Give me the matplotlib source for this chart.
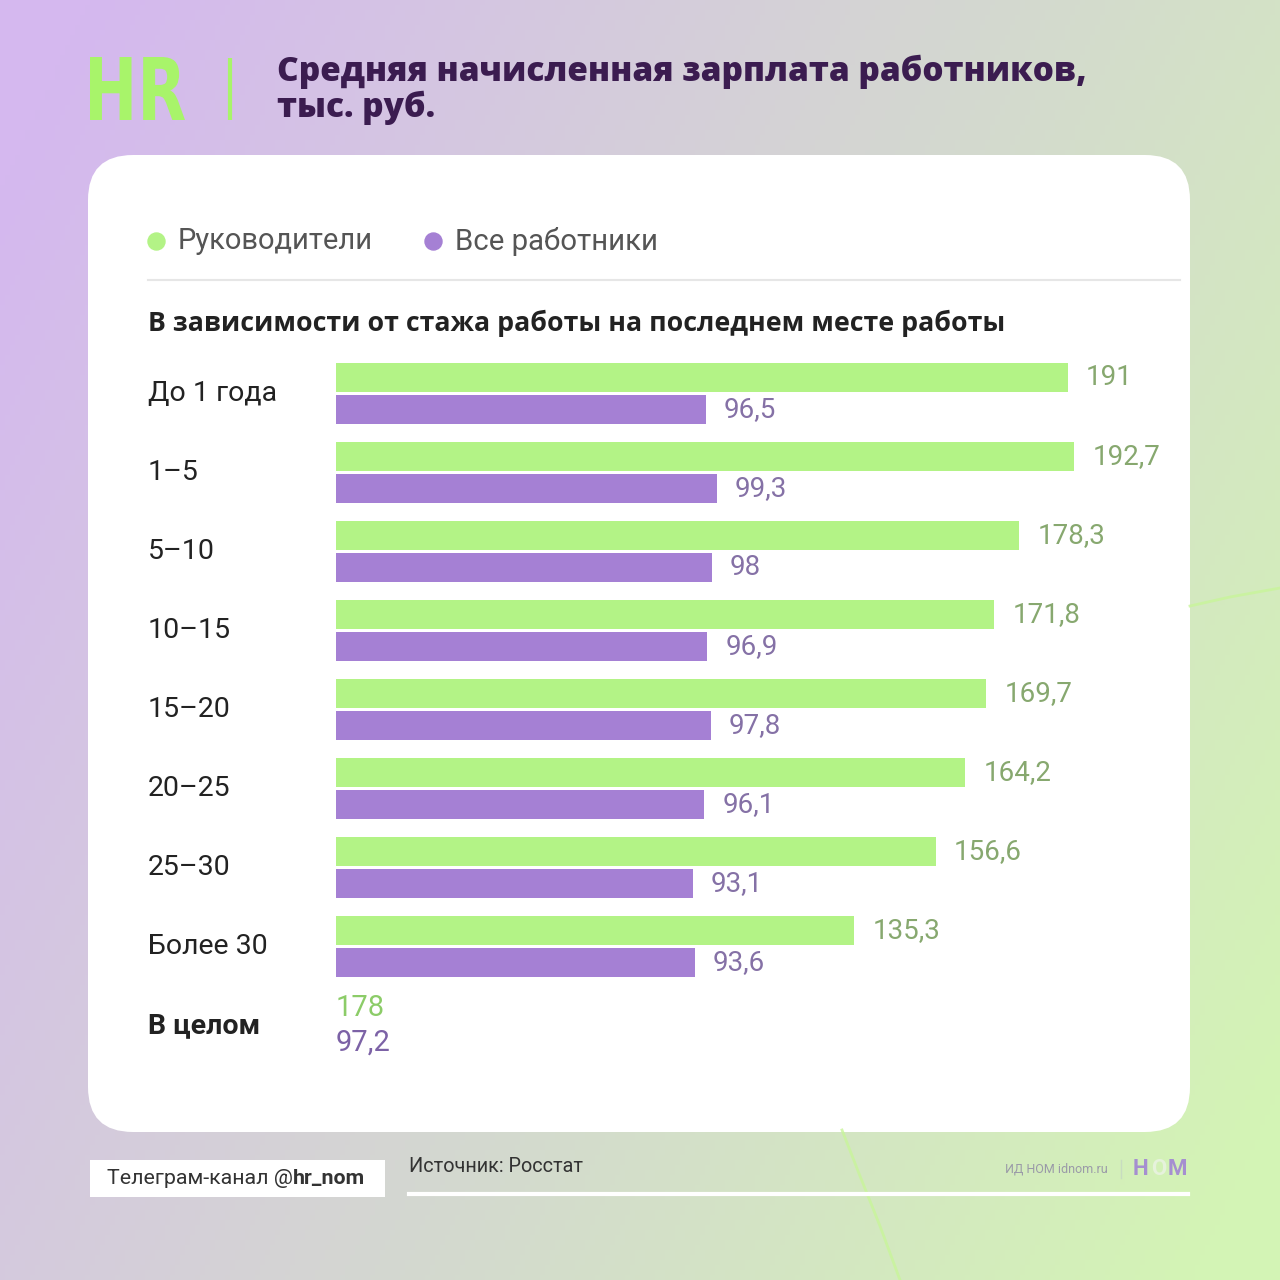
import matplotlib.pyplot as plt
import matplotlib.transforms as mtransforms
from matplotlib.patches import FancyBboxPatch, Rectangle, PathPatch
from matplotlib.textpath import TextPath
from matplotlib.font_manager import FontProperties
import numpy as np

# data (thousand roubles)
categories = ["До 1 года", "1–5", "5–10", "10–15", "15–20", "20–25", "25–30", "Более 30"]
managers = [191, 192.7, 178.3, 171.8, 169.7, 164.2, 156.6, 135.3]
all_workers = [96.5, 99.3, 98, 96.9, 97.8, 96.1, 93.1, 93.6]
total_label = "В целом"
total_managers = 178
total_all = 97.2

GREEN = "#b3f386"
PURPLE = "#a580d4"
GREEN_TXT = "#87a86f"
PURPLE_TXT = "#8571a6"
DARK = "#222222"

W = H = 1280
fig = plt.figure(figsize=(12.8, 12.8), dpi=100)


def fx(px):
    return px / W


def fy(py):
    return 1 - py / H


def fmt(v):
    s = f"{v:g}"
    return s.replace(".", ",")


# background gradient, purple top-left to green bottom-right
bg = fig.add_axes([0, 0, 1, 1])
gx, gy = np.meshgrid(np.linspace(0, 1, 256), np.linspace(0, 1, 256))
t = np.clip(0.75 * gx + 0.35 * gy - 0.05, 0, 1)[..., None]
c0 = np.array([213, 184, 239]) / 255
c1 = np.array([211, 244, 181]) / 255
bg.imshow(c0 * (1 - t) + c1 * t, extent=[0, W, H, 0], aspect="auto", zorder=0)
bg.set_xlim(0, W)
bg.set_ylim(H, 0)
bg.axis("off")

# faint decorative strokes
bg.plot([1190, 1230, 1280], [606, 597, 588], color="#c8f59a", lw=2, alpha=0.8)
bg.plot([842, 860, 880, 900], [1130, 1176, 1226, 1280], color="#c8f59a", lw=2, alpha=0.8)

# white card
card = FancyBboxPatch((88 + 45, 155 + 45), 1102 - 90, 977 - 90,
                      boxstyle="round,pad=45", facecolor="white", edgecolor="none", zorder=1)
bg.add_patch(card)

# logo: "HR" squeezed into its box
logo = TextPath((0, 0), "HR", size=100, prop=FontProperties(family="DejaVu Sans", weight="bold"))
ext = logo.get_extents()
lx0, lx1, ly0, ly1 = 90, 185, 57, 120
logo_tr = (mtransforms.Affine2D()
           .translate(-ext.x0, -ext.y0)
           .scale((lx1 - lx0) / ext.width, -(ly1 - ly0) / ext.height)
           .translate(lx0, ly1))
bg.add_patch(PathPatch(logo_tr.transform_path(logo), facecolor="#a8f46a",
                       edgecolor="none", zorder=2))
bg.plot([230, 230], [58, 120], color="#a8f46a", lw=3, solid_capstyle="butt", zorder=3)
bg.text(277, 90, "Средняя начисленная зарплата работников,\nтыс. руб.", color="#3b1c50",
        fontsize=24, fontweight="heavy", family="Open Sans", va="center", ha="left",
        linespacing=1.05, zorder=2)

# legend
bg.scatter([156], [241], s=150, color=GREEN, zorder=2)
bg.text(178, 241, "Руководители", color="#555555", fontsize=21, family="Roboto",
        va="center", ha="left", zorder=2)
bg.scatter([433], [241], s=150, color=PURPLE, zorder=2)
bg.text(455, 241, "Все работники", color="#555555", fontsize=21.2, family="Roboto",
        va="center", ha="left", zorder=2)
bg.plot([148, 1180], [280, 280], color="#e6e6e6", lw=1.5, zorder=2)

bg.text(148, 323, "В зависимости от стажа работы на последнем месте работы", color=DARK,
        fontsize=19.25, fontweight="bold", family="Open Sans", va="center", ha="left", zorder=2)

# bars
px_per_unit = 3.832
row_px = 79
first_center = 393.5
ax = fig.add_axes([fx(336), fy(first_center + 7.6 * row_px),
                   fx(220 * px_per_unit), 8.2 * row_px / H])
ax.set_xlim(0, 220)
ax.set_ylim(7.6, -0.6)
ax.axis("off")
ax.patch.set_alpha(0)

pos = np.arange(len(categories))
bh = 0.37
off = 0.2
ax.barh(pos - off, managers, height=bh, color=GREEN, zorder=3)
ax.barh(pos + off, all_workers, height=bh, color=PURPLE, zorder=3)

lbl_off = 18 / px_per_unit
for i, (m, a) in enumerate(zip(managers, all_workers)):
    ax.text(m + lbl_off, i - off, fmt(m), color=GREEN_TXT, fontsize=20, family="Roboto",
            va="center", ha="left")
    ax.text(a + lbl_off, i + off, fmt(a), color=PURPLE_TXT, fontsize=20, family="Roboto",
            va="center", ha="left")

trans = mtransforms.blended_transform_factory(fig.transFigure, ax.transData)
for i, c in enumerate(categories):
    ax.text(fx(148), i, c, transform=trans, color=DARK, fontsize=20.5, family="Roboto",
            va="center", ha="left", clip_on=False)

# overall row
ti = len(categories)
ax.text(fx(148), ti, total_label, transform=trans, color=DARK, fontsize=20.5,
        fontweight="bold", family="Roboto", va="center", ha="left", clip_on=False)
ax.text(0, ti - off - 0.02, fmt(total_managers), color="#8ccc68", fontsize=21, family="Roboto",
        va="center", ha="left", clip_on=False)
ax.text(0, ti + off + 0.02, fmt(total_all), color="#7c62a6", fontsize=21, family="Roboto",
        va="center", ha="left", clip_on=False)

# footer
bg.add_patch(Rectangle((90, 1160), 295, 37, facecolor="white", edgecolor="none", zorder=2))
tg = bg.text(107, 1179, "Телеграм-канал @", color="#333333", fontsize=15.4, family="Roboto",
             va="center", ha="left", zorder=3)
bg.annotate("hr_nom", xy=(1, 0.5), xycoords=tg, color="#333333", fontsize=15.4,
            fontweight="bold", family="Roboto", va="center", ha="left", zorder=3)
bg.text(409, 1167, "Источник: Росстат", color="#333333", fontsize=14.3, family="Roboto",
        va="center", ha="left", zorder=3)
bg.plot([409, 1188], [1194, 1194], color="white", lw=3, zorder=2)
bg.text(1108, 1169, "ИД НОМ idnom.ru", color="#9a9aa8", fontsize=9, family="Roboto",
        va="center", ha="right", zorder=3)
bg.plot([1121, 1121], [1160, 1178], color="#c8dcc0", lw=1, zorder=3)
bg.text(1133, 1169, "Н", color="#a58fd0", fontsize=16, fontweight="bold", family="Roboto",
        va="center", ha="left", zorder=3)
bg.text(1151, 1169, "О", color="#e6f2dc", fontsize=16, fontweight="bold", family="Roboto",
        va="center", ha="left", zorder=3)
bg.text(1168, 1169, "М", color="#a58fd0", fontsize=16, fontweight="bold", family="Roboto",
        va="center", ha="left", zorder=3)

fig.savefig("out.png", dpi=100)
